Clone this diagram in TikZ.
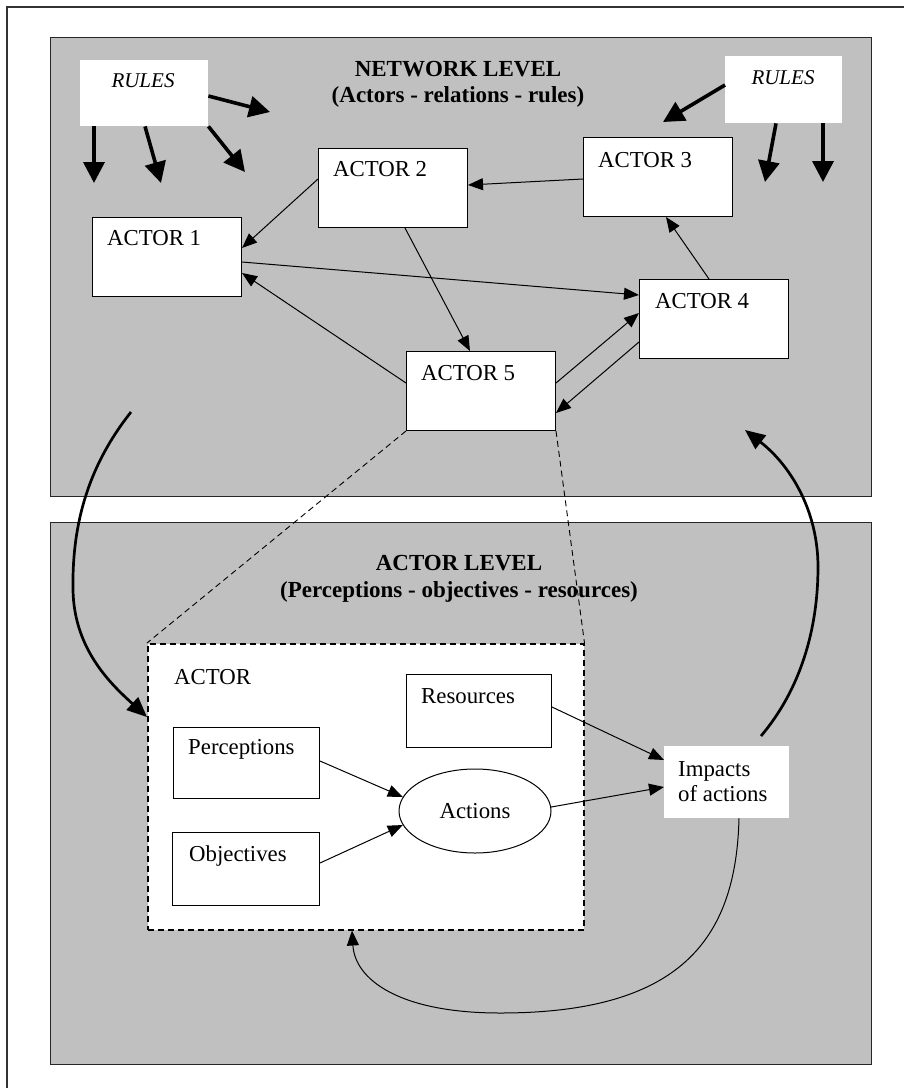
\documentclass[tikz,border=0pt]{standalone}
\usepackage{fontspec}
\setmainfont{Liberation Serif}
\usetikzlibrary{arrows.meta,shapes.geometric,calc}
\definecolor{levelgray}{HTML}{C0C0C0}
\begin{document}
\begin{tikzpicture}[x=1pt,y=-1pt,
  frame/.style={draw=black!80,line width=1.2pt},
  level/.style={draw=black!85,fill=levelgray,line width=1.3pt,anchor=north west,inner sep=0},
  actorbox/.style={draw,fill=white,line width=1pt,anchor=north west,inner sep=0,minimum width=149,minimum height=79},
  itembox/.style={draw,fill=white,line width=1pt,anchor=north west,inner sep=0,minimum width=146,minimum height=72},
  rulesbox/.style={fill=white,anchor=north west,inner sep=0},
  lbl/.style={anchor=base west,inner sep=0,font=\fontsize{22.8}{26}\selectfont},
  ttl/.style={anchor=base,inner sep=0,font=\fontsize{23}{26}\selectfont\bfseries},
  rulestxt/.style={anchor=base,inner sep=0,font=\fontsize{21}{24}\selectfont\itshape},
  conn/.style={line width=1pt,-{Triangle[length=15pt,width=12pt]}},
  rulearrow/.style={line width=3.6pt,-{Triangle[length=21pt,width=21pt]}},
  bigcurve/.style={line width=2.7pt,-{Triangle[length=20pt,width=17pt]}},
  link/.style={line width=0.9pt,dash pattern=on 6pt off 4pt}
]
\useasboundingbox (0,0) rectangle (904,1088);

% outer frame
\draw[frame] (7,1100) -- (7,7) -- (915,7);

% the two levels
\node[level,minimum width=821,minimum height=459] (net) at (50,37) {};
\node[level,minimum width=821,minimum height=542] (act) at (50,522) {};

% ---------------- network level ----------------
\node[ttl] (nt1) at (458,76) {NETWORK LEVEL};
\node[ttl] (nt2) at (458,102) {(Actors - relations - rules)};

\node[rulesbox,minimum width=128,minimum height=66] (rl) at (80,60) {};
\node[rulestxt] (rlt) at (143,87) {RULES};
\node[rulesbox,minimum width=117,minimum height=67] (rr) at (725,56) {};
\node[rulestxt] (rrt) at (783,84) {RULES};

\node[actorbox] (a1) at (92,217) {};
\node[lbl] (a1t) at ([shift={(15,28)}]a1.north west) {ACTOR 1};
\node[actorbox] (a2) at (318,148) {};
\node[lbl] (a2t) at ([shift={(15,28)}]a2.north west) {ACTOR 2};
\node[actorbox] (a3) at (583,137) {};
\node[lbl] (a3t) at ([shift={(15,30)}]a3.north west) {ACTOR 3};
\node[actorbox] (a4) at (639,279) {};
\node[lbl] (a4t) at ([shift={(16,29)}]a4.north west) {ACTOR 4};
\node[actorbox] (a5) at (406,351) {};
\node[lbl] (a5t) at ([shift={(15,29)}]a5.north west) {ACTOR 5};

% rules acting on the network
\coordinate (rla) at (94,183);
\coordinate (rlb) at (161,183);
\coordinate (rlc) at (245,172);
\coordinate (rld) at (270,112);
\draw[rulearrow] ([shift={(14,0)}]rl.south west) -- (rla);
\draw[rulearrow] ([shift={(65,0)}]rl.south west) -- (rlb);
\draw[rulearrow] (rl.south east) -- (rlc);
\draw[rulearrow] ([shift={(0,36)}]rl.north east) -- (rld);
\coordinate (rre) at (663,122);
\coordinate (rrf) at (765,182);
\coordinate (rrg) at (823,182);
\draw[rulearrow] ([shift={(0,29)}]rr.north west) -- (rre);
\draw[rulearrow] ([shift={(51,0)}]rr.south west) -- (rrf);
\draw[rulearrow] ([shift={(98,0)}]rr.south west) -- (rrg);

% relations between actors
\draw[conn] ([shift={(0,31)}]a2.north west) -- ([shift={(0,31)}]a1.north east);
\draw[conn] ([shift={(0,45)}]a1.north east) -- ([shift={(0,16)}]a4.north west);
\draw[conn] ([shift={(0,32)}]a5.north west) -- ([shift={(0,56)}]a1.north east);
\draw[conn] ([shift={(87,0)}]a2.south west) -- ([shift={(64,0)}]a5.north west);
\draw[conn] ([shift={(0,42)}]a3.north west) -- ([shift={(0,37)}]a2.north east);
\draw[conn] ([shift={(70,0)}]a4.north west) -- ([shift={(83,0)}]a3.south west);
\draw[conn] ([shift={(0,32)}]a5.north east) -- ([shift={(0,34)}]a4.north west);
\draw[conn] ([shift={(0,63)}]a4.north west) -- ([shift={(0,62)}]a5.north east);

% ---------------- actor level ----------------
\node[ttl] (at1) at (459,570) {ACTOR LEVEL};
\node[ttl] (at2) at (459,597) {(Perceptions - objectives - resources)};

\node[draw,fill=white,line width=1.5pt,dash pattern=on 6pt off 4pt,anchor=north west,
      inner sep=0,minimum width=436,minimum height=286] (abox) at (147,643) {};
\draw[link] (a5.south west) -- (abox.north west);
\draw[link] (a5.south east) -- (abox.north east);

\node[lbl] (abt) at (174,684) {ACTOR};

\node[itembox,minimum width=145,minimum height=73] (res) at (406,674) {};
\node[lbl] (rest) at ([shift={(15,29)}]res.north west) {Resources};
\node[itembox,minimum height=71] (per) at (173,727) {};
\node[lbl] (pert) at ([shift={(15,27)}]per.north west) {Perceptions};
\node[itembox,minimum width=147,minimum height=73] (obj) at (172,832) {};
\node[lbl] (objt) at ([shift={(17,29)}]obj.north west) {Objectives};

\node[draw,ellipse,line width=1pt,inner sep=0,minimum width=152,minimum height=84,
      font=\fontsize{22.8}{26}\selectfont] (acts) at (475,811) {Actions};

\node[fill=white,anchor=north west,inner sep=0,minimum width=125,minimum height=72] (imp) at (664,746) {};
\node[lbl] (imp1) at ([shift={(14,30)}]imp.north west) {Impacts};
\node[lbl] (imp2) at ([shift={(14,55)}]imp.north west) {of actions};

\draw[conn] ([shift={(0,34)}]per.north east) -- (acts.169);
\draw[conn] ([shift={(0,31)}]obj.north east) -- (acts.191);
\draw[conn] ([shift={(0,33)}]res.north east) -- ([shift={(0,14)}]imp.north west);
\draw[conn] (acts.3) -- ([shift={(0,41)}]imp.north west);

% feedback loops between the levels
\coordinate (lc) at (131,412);
\coordinate (rc) at (745,430);
\draw[bigcurve] (lc) .. controls (85,470) and (72,530) .. (73,590)
  .. controls (74,650) and (112,685) .. ([shift={(0,74)}]abox.north west);
\draw[bigcurve] ([shift={(97,-10)}]imp.north west) .. controls (800,690) and (818,630) .. (818,567)
  .. controls (818,510) and (790,465) .. (rc);
\draw[conn] ([shift={(75,0)}]imp.south west) .. controls (736,940) and (680,1013) .. (500,1013)
  .. controls (400,1013) and (355,980) .. ([shift={(205,0)}]abox.south west);
\end{tikzpicture}
\end{document}
